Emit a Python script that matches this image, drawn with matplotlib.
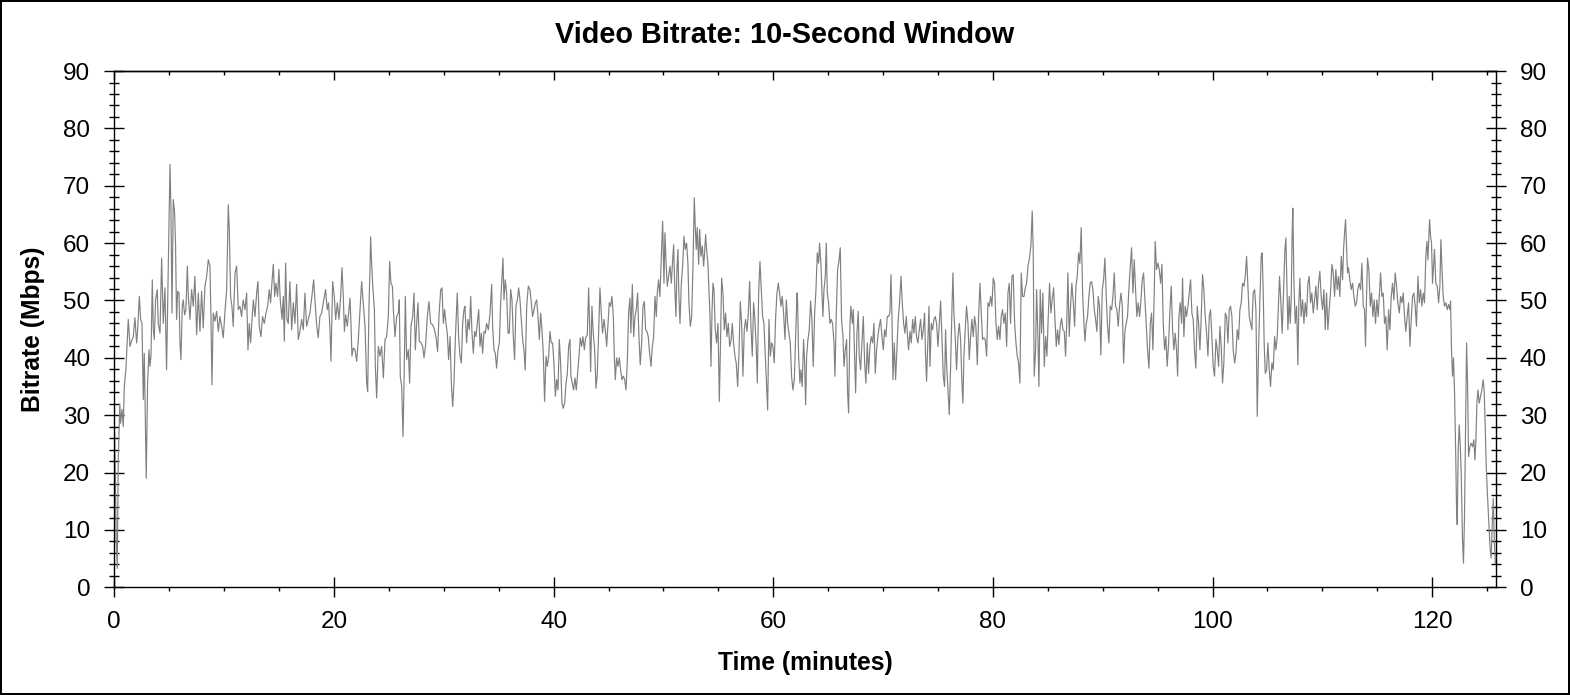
import numpy as np
import matplotlib
matplotlib.use("Agg")
import matplotlib.pyplot as plt
from matplotlib.ticker import MultipleLocator

plt.rcParams['font.family'] = ['Liberation Sans', 'DejaVu Sans']

# (minute, Mbps), one list per ~20 minutes
seg_a = [(0.03, 27.0), (0.10, 18.0), (0.18, 8.0), (0.27, 3.3), (0.36, 22.0), (0.50, 32.0), (0.58, 28.6), (0.70, 31.0),
         (0.82, 28.0), (0.91, 35.0), (1.06, 38.0), (1.18, 42.9), (1.27, 46.7), (1.43, 42.0), (1.58, 43.0), (1.73, 43.7),
         (1.88, 47.0), (2.03, 42.6), (2.12, 44.6), (2.28, 50.7), (2.40, 46.7), (2.52, 46.0), (2.64, 32.7), (2.73, 40.8),
         (2.82, 30.4), (2.91, 19.0), (3.03, 35.6), (3.16, 41.4), (3.25, 38.5), (3.34, 40.3), (3.46, 53.6), (3.55, 44.9),
         (3.64, 43.2), (3.76, 50.1), (3.91, 51.9), (4.00, 46.0), (4.16, 44.3), (4.31, 57.4), (4.46, 46.0), (4.61, 52.2),
         (4.76, 37.9), (4.92, 56.0), (5.07, 73.7), (5.16, 65.9), (5.25, 47.8), (5.37, 67.6), (5.49, 65.3), (5.58, 59.5),
         (5.67, 46.7), (5.77, 51.6), (5.89, 51.3), (5.98, 42.6), (6.07, 39.7), (6.19, 49.0), (6.28, 50.1), (6.40, 47.5),
         (6.52, 48.4), (6.65, 56.0), (6.74, 50.7), (6.89, 46.7), (7.04, 51.9), (7.19, 49.0), (7.34, 54.2), (7.50, 44.0),
         (7.65, 51.3), (7.80, 44.6), (7.95, 51.6), (8.10, 45.2), (8.25, 52.5), (8.41, 54.2), (8.56, 57.1), (8.71, 56.0),
         (8.80, 47.2), (8.89, 35.3), (9.01, 47.8), (9.16, 46.4), (9.32, 48.1), (9.47, 44.6), (9.62, 47.2), (9.77, 45.5),
         (9.92, 43.5), (10.07, 47.8), (10.23, 51.9), (10.38, 66.7), (10.47, 62.4), (10.59, 50.7), (10.71, 49.0),
         (10.83, 45.5), (10.99, 54.8), (11.14, 56.0), (11.29, 48.4), (11.44, 49.0), (11.59, 47.2), (11.74, 50.1),
         (11.90, 48.4), (12.05, 51.3), (12.17, 41.4), (12.29, 46.0), (12.41, 42.6), (12.53, 46.4), (12.66, 50.1),
         (12.81, 47.2), (12.96, 51.3), (13.08, 53.3), (13.20, 45.5), (13.35, 43.7), (13.50, 47.2), (13.66, 46.0),
         (13.81, 47.8), (13.96, 49.0), (14.11, 51.9), (14.23, 49.6), (14.35, 53.0), (14.48, 56.3), (14.60, 50.7),
         (14.72, 53.0), (14.87, 50.7), (14.99, 55.4), (15.11, 50.1), (15.27, 46.7), (15.39, 50.7), (15.48, 42.9),
         (15.60, 56.5), (15.72, 46.7), (15.84, 46.0), (15.99, 53.3), (16.15, 44.9), (16.30, 49.6), (16.45, 46.0),
         (16.60, 52.8), (16.75, 43.2), (16.90, 44.6), (17.06, 46.7), (17.21, 44.9), (17.36, 51.3), (17.51, 45.5),
         (17.66, 46.7), (17.81, 47.8), (17.99, 50.7), (18.15, 53.6), (18.27, 50.1), (18.42, 45.8), (18.57, 43.5),
         (18.72, 47.2), (18.88, 47.8), (19.03, 49.6), (19.24, 51.9), (19.39, 48.4), (19.51, 49.6), (19.64, 44.9)]

seg_b = [(19.73, 39.4), (19.88, 53.3), (20.03, 50.7), (20.16, 46.7), (20.31, 49.6), (20.46, 46.7), (20.61, 50.7),
         (20.73, 55.7), (20.85, 50.7), (20.95, 44.6), (21.07, 47.5), (21.22, 45.5), (21.34, 47.8), (21.46, 50.4),
         (21.55, 46.0), (21.64, 40.3), (21.76, 41.7), (21.92, 41.4), (22.07, 39.4), (22.22, 43.2), (22.37, 48.4),
         (22.52, 53.3), (22.67, 49.6), (22.83, 45.5), (22.98, 35.6), (23.07, 34.1), (23.19, 49.0), (23.28, 55.4),
         (23.34, 61.1), (23.43, 56.5), (23.52, 53.0), (23.68, 48.4), (23.77, 38.5), (23.89, 33.0), (24.04, 42.0),
         (24.19, 40.3), (24.34, 42.0), (24.50, 36.5), (24.65, 43.2), (24.80, 43.7), (24.95, 47.2), (25.07, 56.8),
         (25.19, 53.0), (25.32, 52.5), (25.41, 48.4), (25.56, 43.7), (25.71, 47.2), (25.86, 47.8), (25.95, 50.1),
         (26.04, 36.8), (26.17, 35.0), (26.29, 26.3), (26.38, 35.6), (26.50, 50.7), (26.62, 39.7), (26.77, 41.4),
         (26.89, 35.6), (27.01, 45.5), (27.17, 47.2), (27.29, 51.3), (27.41, 41.4), (27.53, 46.0), (27.65, 49.6),
         (27.77, 42.9), (27.93, 42.6), (28.08, 42.0), (28.20, 40.0), (28.35, 42.3), (28.50, 47.2), (28.65, 49.8),
         (28.81, 46.0), (28.96, 45.8), (29.11, 45.2), (29.29, 43.7), (29.44, 41.1), (29.56, 47.2), (29.72, 51.9),
         (29.84, 52.2), (29.96, 46.0), (30.08, 48.4), (30.20, 46.0), (30.32, 44.3), (30.44, 39.7), (30.57, 43.7),
         (30.69, 35.6), (30.81, 31.5), (30.93, 35.6), (31.02, 41.4), (31.11, 46.0), (31.23, 51.3), (31.35, 43.7),
         (31.48, 40.3), (31.60, 39.1), (31.72, 46.0), (31.84, 48.4), (31.93, 49.0), (32.08, 42.6), (32.20, 46.7),
         (32.33, 44.9), (32.45, 50.7), (32.57, 44.3), (32.69, 40.8), (32.81, 44.6), (32.93, 43.7), (33.05, 46.0),
         (33.18, 48.4), (33.30, 42.0), (33.42, 44.3), (33.54, 40.8), (33.66, 44.6), (33.78, 44.3), (33.90, 46.0),
         (34.06, 44.9), (34.21, 47.8), (34.36, 52.8), (34.45, 45.5), (34.57, 41.4), (34.69, 40.8), (34.81, 38.2),
         (34.94, 41.4), (35.06, 42.6), (35.18, 49.6), (35.30, 54.2), (35.39, 57.4), (35.48, 50.1), (35.60, 53.6),
         (35.72, 51.3), (35.85, 44.3), (35.97, 44.3), (36.09, 51.9), (36.21, 50.1), (36.33, 43.7), (36.45, 39.7),
         (36.57, 49.0), (36.70, 50.1), (36.82, 52.2), (36.94, 50.1), (37.06, 46.7), (37.18, 43.2), (37.30, 41.4),
         (37.42, 37.9), (37.55, 49.0), (37.70, 52.5), (37.85, 51.9), (37.97, 49.6), (38.09, 47.2), (38.21, 48.4),
         (38.34, 49.6), (38.46, 50.1), (38.58, 47.2), (38.70, 43.2), (38.82, 47.8), (38.94, 44.9), (39.06, 40.8),
         (39.18, 32.4), (39.31, 40.3), (39.43, 38.5), (39.55, 40.3), (39.67, 44.6), (39.79, 42.6), (39.91, 42.6),
         (40.03, 39.1), (40.16, 33.3), (40.28, 36.2), (40.40, 34.4), (40.52, 43.2), (40.64, 39.1), (40.76, 32.1),
         (40.88, 31.2), (41.01, 32.1), (41.13, 35.6), (41.25, 37.3), (41.37, 42.0), (41.49, 43.2)]

seg_c = [(41.58, 36.8), (41.70, 35.6), (41.82, 34.4), (41.95, 36.5), (42.07, 34.4), (42.19, 37.3), (42.31, 40.3),
         (42.43, 43.5), (42.55, 42.0), (42.67, 43.7), (42.80, 41.4), (42.92, 43.5), (43.07, 44.0), (43.19, 52.2),
         (43.28, 46.0), (43.37, 37.6), (43.49, 49.0), (43.61, 44.3), (43.74, 41.4), (43.86, 34.7), (43.98, 37.3),
         (44.10, 44.3), (44.22, 52.2), (44.34, 47.8), (44.46, 44.3), (44.59, 46.7), (44.71, 44.9), (44.83, 42.0),
         (44.95, 45.8), (45.07, 49.6), (45.19, 49.0), (45.31, 50.7), (45.44, 47.2), (45.53, 40.3), (45.62, 36.2),
         (45.74, 40.0), (45.86, 38.5), (45.98, 40.0), (46.10, 37.9), (46.23, 36.2), (46.35, 36.8), (46.47, 36.2),
         (46.59, 34.4), (46.71, 39.1), (46.83, 47.8), (46.95, 50.4), (47.04, 44.3), (47.17, 52.8), (47.29, 43.7),
         (47.41, 47.2), (47.53, 48.4), (47.65, 51.3), (47.77, 43.7), (47.89, 38.8), (48.02, 42.6), (48.14, 49.0),
         (48.26, 49.8), (48.38, 44.9), (48.50, 44.6), (48.62, 43.7), (48.74, 40.8), (48.87, 38.5), (48.99, 42.0),
         (49.11, 43.7), (49.23, 50.7), (49.35, 47.2), (49.44, 51.3), (49.56, 53.6), (49.68, 50.7), (49.81, 57.7),
         (49.93, 63.8), (50.05, 53.0), (50.14, 61.8), (50.23, 57.1), (50.35, 52.5), (50.47, 54.2), (50.60, 56.0),
         (50.72, 53.0), (50.84, 57.1), (50.93, 59.7), (51.02, 53.0), (51.14, 47.2), (51.23, 55.4), (51.32, 58.9),
         (51.41, 50.7), (51.51, 46.0), (51.63, 53.0), (51.75, 56.0), (51.87, 61.2), (51.99, 58.9), (52.11, 60.0),
         (52.23, 56.5), (52.32, 49.6), (52.45, 45.5), (52.57, 47.2), (52.69, 56.0), (52.81, 67.9), (52.90, 62.9),
         (52.99, 58.9), (53.08, 62.7), (53.21, 56.3), (53.30, 62.4), (53.42, 57.7), (53.54, 59.5), (53.66, 56.0),
         (53.75, 58.3), (53.84, 61.5), (53.93, 58.9), (54.05, 56.5), (54.14, 51.9), (54.24, 47.2), (54.33, 38.5),
         (54.42, 47.8), (54.51, 53.0), (54.60, 51.9), (54.72, 44.9), (54.84, 42.6), (54.97, 46.0), (55.09, 32.4),
         (55.18, 40.8), (55.30, 53.9), (55.42, 51.3), (55.54, 44.9), (55.66, 47.8), (55.78, 43.7), (55.91, 46.0),
         (56.03, 42.0), (56.15, 42.9), (56.27, 46.0), (56.39, 42.6), (56.51, 40.3), (56.63, 39.1), (56.76, 35.0),
         (56.88, 40.8), (57.00, 49.8), (57.12, 46.0), (57.24, 36.8), (57.36, 44.9), (57.48, 46.7), (57.61, 44.6),
         (57.73, 47.8), (57.85, 53.3), (57.97, 45.5), (58.09, 40.3), (58.21, 49.6), (58.33, 46.7), (58.46, 41.4),
         (58.55, 35.6), (58.67, 51.3), (58.79, 56.8), (58.91, 51.9), (59.03, 47.2), (59.15, 46.0), (59.27, 40.8),
         (59.40, 35.6), (59.49, 30.9), (59.61, 46.7), (59.73, 40.3), (59.85, 42.6), (59.97, 42.0), (60.09, 39.1),
         (60.22, 47.2), (60.34, 51.3), (60.46, 53.0), (60.58, 51.3), (60.70, 49.0), (60.82, 50.7), (60.94, 47.8),
         (61.07, 43.2), (61.19, 50.1), (61.31, 46.0), (61.43, 44.3), (61.55, 42.6), (61.67, 36.8), (61.79, 34.4),
         (61.92, 36.2), (62.04, 43.7), (62.16, 51.3), (62.22, 49.6), (62.31, 40.3), (62.43, 35.6)]

seg_d = [(62.52, 37.9), (62.64, 35.0), (62.76, 43.2), (62.86, 39.1), (62.95, 31.8), (63.04, 40.3), (63.16, 43.2),
         (63.28, 44.9), (63.40, 49.9), (63.52, 46.7), (63.64, 38.5), (63.77, 47.8), (63.89, 51.9), (64.01, 58.3),
         (64.13, 56.5), (64.22, 60.0), (64.34, 56.5), (64.43, 51.9), (64.52, 47.2), (64.62, 51.9), (64.74, 54.2),
         (64.83, 60.0), (64.92, 51.3), (65.04, 49.6), (65.16, 46.0), (65.28, 46.7), (65.40, 46.0), (65.53, 42.6),
         (65.62, 36.8), (65.74, 47.8), (65.86, 55.4), (65.98, 56.8), (66.10, 59.2), (66.22, 46.7), (66.35, 43.7),
         (66.44, 38.5), (66.56, 41.4), (66.68, 43.2), (66.77, 33.9), (66.86, 30.4), (66.98, 45.5), (67.07, 49.0),
         (67.20, 46.0), (67.29, 48.4), (67.41, 39.7), (67.50, 33.9), (67.62, 44.3), (67.74, 48.1), (67.83, 40.3),
         (67.95, 37.9), (68.08, 42.6), (68.20, 47.2), (68.32, 39.1), (68.44, 35.6), (68.56, 42.6), (68.68, 37.3),
         (68.80, 42.0), (68.93, 43.7), (69.05, 42.6), (69.17, 46.0), (69.29, 37.3), (69.41, 41.4), (69.53, 43.7),
         (69.65, 45.5), (69.77, 46.7), (69.90, 43.7), (70.02, 41.4), (70.14, 44.9), (70.26, 43.7), (70.38, 47.2),
         (70.50, 47.2), (70.62, 47.8), (70.72, 54.5), (70.81, 47.2), (70.90, 36.2), (71.02, 42.6), (71.14, 36.2),
         (71.26, 41.4), (71.38, 46.7), (71.50, 49.6), (71.63, 54.2), (71.75, 49.6), (71.87, 46.0), (71.99, 44.3),
         (72.11, 47.2), (72.23, 43.7), (72.32, 41.4), (72.45, 44.6), (72.57, 42.6), (72.69, 46.7), (72.81, 44.3),
         (72.93, 47.2), (73.05, 43.7), (73.17, 42.6), (73.30, 44.9), (73.42, 46.7), (73.54, 43.2), (73.66, 44.9),
         (73.78, 47.8), (73.87, 40.3), (73.96, 35.9), (74.08, 43.2), (74.18, 49.0), (74.27, 38.5), (74.39, 46.0),
         (74.51, 44.9), (74.63, 46.7), (74.75, 47.2), (74.87, 46.0), (75.00, 42.0), (75.12, 46.0), (75.24, 49.9),
         (75.36, 43.7), (75.48, 36.8), (75.60, 35.0), (75.69, 44.9), (75.78, 39.1), (75.91, 34.4), (76.03, 30.1),
         (76.15, 38.5), (76.27, 48.4), (76.36, 54.8), (76.45, 47.8), (76.57, 43.7), (76.69, 37.9), (76.82, 43.7),
         (76.94, 46.0), (77.06, 43.2), (77.18, 35.6), (77.27, 32.1), (77.36, 40.3), (77.48, 44.9), (77.60, 49.0),
         (77.73, 46.0), (77.85, 39.7), (77.97, 43.7), (78.09, 46.7), (78.21, 43.7), (78.33, 47.2), (78.45, 45.5),
         (78.58, 38.8), (78.70, 47.2), (78.82, 53.0), (78.94, 47.8), (79.06, 43.2), (79.18, 43.5), (79.30, 43.2),
         (79.43, 40.3), (79.55, 49.6), (79.67, 49.0), (79.79, 50.7), (79.91, 49.0), (80.03, 53.9), (80.15, 53.0),
         (80.28, 46.0), (80.40, 43.2), (80.52, 45.5), (80.64, 43.2), (80.76, 47.2), (80.88, 48.4), (81.00, 46.0),
         (81.13, 47.8), (81.25, 42.0), (81.37, 51.3), (81.49, 53.0), (81.61, 46.0), (81.73, 54.2), (81.85, 54.5),
         (81.98, 46.0), (82.10, 42.6), (82.22, 40.3), (82.34, 39.1), (82.46, 35.6), (82.58, 54.8), (82.70, 50.7),
         (82.83, 50.7), (82.95, 52.2), (83.07, 53.0), (83.19, 56.0), (83.31, 57.1)]

seg_e = [(83.46, 59.5), (83.58, 65.6), (83.67, 58.9), (83.76, 36.8), (83.89, 41.4), (83.98, 51.9), (84.10, 43.7),
         (84.19, 35.0), (84.31, 51.9), (84.43, 44.3), (84.55, 51.3), (84.68, 38.5), (84.80, 43.7), (84.92, 40.3),
         (85.04, 47.2), (85.16, 53.0), (85.28, 47.8), (85.40, 50.1), (85.53, 52.2), (85.65, 46.7), (85.77, 42.0),
         (85.89, 44.9), (86.01, 42.3), (86.13, 45.5), (86.25, 46.9), (86.38, 44.9), (86.50, 44.6), (86.62, 40.3),
         (86.74, 47.2), (86.83, 54.8), (86.95, 43.7), (87.07, 49.0), (87.19, 53.0), (87.32, 49.6), (87.44, 45.5),
         (87.56, 52.5), (87.68, 54.2), (87.80, 58.3), (87.92, 56.5), (88.04, 62.7), (88.17, 51.3), (88.29, 46.0),
         (88.38, 42.9), (88.50, 46.0), (88.62, 47.2), (88.74, 50.7), (88.86, 53.0), (88.98, 53.3), (89.11, 51.9),
         (89.23, 48.4), (89.35, 46.7), (89.47, 44.6), (89.59, 50.7), (89.71, 49.0), (89.83, 40.5), (89.96, 51.9),
         (90.08, 53.6), (90.20, 57.4), (90.32, 50.7), (90.44, 45.5), (90.56, 42.6), (90.68, 49.0), (90.81, 48.4),
         (90.93, 50.7), (91.05, 54.8), (91.17, 49.0), (91.29, 48.4), (91.41, 45.5), (91.53, 49.0), (91.66, 51.3),
         (91.78, 49.0), (91.90, 39.1), (92.02, 44.6), (92.14, 46.0), (92.26, 47.2), (92.38, 51.9), (92.51, 56.0),
         (92.63, 59.2), (92.75, 51.3), (92.87, 57.1), (92.99, 51.9), (93.11, 47.2), (93.23, 49.6), (93.36, 47.2),
         (93.48, 50.1), (93.60, 53.6), (93.72, 54.8), (93.84, 50.1), (93.96, 46.0), (94.08, 41.4), (94.21, 38.2),
         (94.33, 46.0), (94.45, 47.8), (94.57, 41.4), (94.69, 51.3), (94.78, 60.3), (94.90, 55.4), (95.02, 56.5),
         (95.15, 55.4), (95.27, 53.0), (95.39, 56.3), (95.51, 46.0), (95.63, 41.4), (95.75, 43.7), (95.87, 38.5),
         (96.00, 42.6), (96.12, 48.4), (96.24, 52.5), (96.36, 44.9), (96.48, 41.4), (96.60, 44.3), (96.72, 41.4),
         (96.82, 36.8), (96.94, 47.2), (97.06, 49.6), (97.18, 46.0), (97.27, 53.9), (97.39, 43.7), (97.51, 49.0),
         (97.63, 47.2), (97.76, 49.0), (97.88, 51.3), (98.00, 53.6), (98.12, 47.8), (98.24, 46.7), (98.36, 41.4),
         (98.48, 38.2), (98.61, 49.0), (98.73, 46.0), (98.85, 41.4), (98.97, 47.2), (99.09, 54.5), (99.21, 51.9),
         (99.33, 47.2), (99.46, 44.3), (99.58, 40.3), (99.70, 47.2), (99.82, 48.4), (99.94, 43.7), (100.06, 38.5),
         (100.18, 36.8), (100.31, 43.2), (100.43, 41.4), (100.55, 38.5), (100.67, 45.5), (100.79, 42.0),
         (100.91, 35.6), (101.03, 39.1), (101.16, 47.8), (101.28, 47.2), (101.40, 42.6), (101.52, 48.4),
         (101.64, 49.0), (101.76, 47.2), (101.88, 41.4), (102.01, 39.1), (102.13, 40.8), (102.25, 44.9),
         (102.37, 43.2), (102.49, 48.4), (102.61, 49.6), (102.73, 53.0), (102.86, 52.5), (102.98, 54.2),
         (103.10, 57.7), (103.22, 52.5), (103.34, 47.2), (103.46, 46.0), (103.58, 44.9), (103.70, 51.3),
         (103.83, 51.9), (103.95, 48.4), (104.07, 29.8), (104.19, 41.4), (104.31, 50.1)]

seg_f = [(104.43, 57.7), (104.52, 58.3), (104.61, 51.9), (104.70, 42.6), (104.80, 37.3), (104.92, 37.9),
         (105.04, 42.6), (105.16, 37.9), (105.28, 35.0), (105.40, 39.1), (105.52, 37.9), (105.65, 43.7),
         (105.77, 41.4), (105.89, 43.7), (106.01, 49.6), (106.10, 54.2), (106.22, 49.6), (106.34, 44.3),
         (106.47, 51.9), (106.59, 58.9), (106.68, 60.9), (106.77, 53.0), (106.86, 44.9), (106.98, 50.7),
         (107.07, 46.0), (107.16, 50.1), (107.25, 61.8), (107.31, 66.1), (107.41, 53.0), (107.53, 46.0),
         (107.65, 49.0), (107.77, 38.8), (107.86, 49.6), (107.95, 53.9), (108.07, 47.2), (108.20, 50.1),
         (108.32, 46.0), (108.44, 49.6), (108.56, 47.2), (108.68, 53.0), (108.80, 54.2), (108.92, 49.6),
         (109.04, 51.3), (109.17, 47.8), (109.29, 50.1), (109.41, 52.5), (109.53, 48.4), (109.65, 53.0),
         (109.77, 55.1), (109.89, 50.7), (110.02, 48.4), (110.14, 51.9), (110.26, 44.9), (110.38, 51.3),
         (110.50, 44.9), (110.62, 48.4), (110.74, 51.3), (110.87, 56.3), (110.99, 54.8), (111.11, 50.7),
         (111.23, 55.4), (111.35, 51.9), (111.47, 54.2), (111.59, 50.7), (111.72, 57.7), (111.84, 53.6),
         (111.93, 58.9), (112.02, 61.8), (112.11, 64.1), (112.20, 59.5), (112.29, 54.8), (112.38, 55.7),
         (112.50, 53.6), (112.63, 51.9), (112.75, 53.0), (112.87, 50.7), (112.99, 49.0), (113.11, 49.6),
         (113.23, 51.9), (113.35, 53.0), (113.48, 51.9), (113.60, 56.5), (113.72, 49.0), (113.84, 48.4),
         (113.93, 42.0), (114.02, 50.7), (114.11, 57.4), (114.23, 55.4), (114.36, 49.0), (114.48, 51.3),
         (114.60, 47.2), (114.72, 50.1), (114.84, 46.0), (114.96, 50.1), (115.08, 47.2), (115.21, 51.9),
         (115.30, 54.8), (115.42, 50.7), (115.54, 51.3), (115.66, 46.0), (115.78, 47.2), (115.90, 41.4),
         (116.03, 48.4), (116.15, 44.9), (116.27, 50.7), (116.39, 53.0), (116.51, 50.1), (116.63, 54.8),
         (116.75, 52.5), (116.87, 49.6), (117.00, 47.8), (117.12, 50.7), (117.24, 49.6), (117.36, 51.3),
         (117.48, 47.2), (117.60, 44.6), (117.72, 47.2), (117.85, 49.6), (117.97, 42.0), (118.09, 46.7),
         (118.21, 50.7), (118.33, 51.3), (118.45, 49.0), (118.57, 45.5), (118.70, 54.2), (118.82, 49.6),
         (118.94, 51.9), (119.06, 49.0), (119.18, 51.3), (119.30, 49.6), (119.42, 57.7), (119.52, 60.3),
         (119.61, 57.1), (119.70, 61.2), (119.76, 64.1), (119.85, 61.2), (119.94, 60.0), (120.03, 53.0),
         (120.12, 56.0), (120.21, 58.9), (120.33, 53.0), (120.46, 52.5), (120.58, 49.6), (120.70, 52.5),
         (120.79, 60.6), (120.88, 56.0), (121.00, 50.7), (121.12, 49.0), (121.25, 49.6), (121.37, 48.4),
         (121.49, 49.3), (121.61, 48.4), (121.67, 49.9), (121.76, 41.4), (121.85, 36.8), (121.94, 40.0),
         (122.03, 34.4), (122.13, 24.5), (122.22, 13.5), (122.28, 10.9), (122.37, 24.0), (122.46, 28.3),
         (122.55, 25.1), (122.64, 19.9), (122.76, 8.3), (122.85, 4.2), (122.94, 12.3), (123.04, 28.0),
         (123.13, 42.6), (123.22, 35.6), (123.31, 22.8), (123.43, 24.5), (123.55, 25.1), (123.67, 24.5),
         (123.79, 25.7), (123.89, 22.2), (123.98, 25.7), (124.07, 32.1), (124.16, 34.4), (124.28, 32.1),
         (124.40, 33.3), (124.52, 34.4), (124.64, 36.2), (124.73, 34.4), (124.83, 28.0), (124.92, 21.1),
         (125.01, 17.0), (125.10, 13.5), (125.19, 10.0), (125.28, 6.5), (125.37, 5.1), (125.47, 11.2),
         (125.56, 15.5), (125.65, 8.3), (125.74, 4.2)]

x_ticks = [0, 20, 40, 60, 80, 100, 120]
y_ticks = [0, 10, 20, 30, 40, 50, 60, 70, 80, 90]
x_max = 125.8

pts = np.array(seg_a + seg_b + seg_c + seg_d + seg_e + seg_f)
minutes, mbps = pts[:, 0], pts[:, 1]

fig = plt.figure(figsize=(15.7, 6.95), dpi=100, linewidth=1.5, edgecolor='black')
ax = fig.add_axes([0.0728, 0.155, 0.88, 0.7428])

ax.plot(minutes, mbps, color='#808080', linewidth=0.85)

ax.set_xlim(0, x_max)
ax.set_ylim(0, 90)
ax.set_xticks(x_ticks)
ax.set_yticks(y_ticks)
ax.xaxis.set_minor_locator(MultipleLocator(5))
ax.yaxis.set_minor_locator(MultipleLocator(2))

for s in ax.spines.values():
    s.set_linewidth(1.0)

ax.tick_params(axis='both', which='both', labelsize=17.5, width=1.0, colors='black')
ax.tick_params(axis='x', which='major', direction='inout', length=13.7, pad=10, top=False)
ax.tick_params(axis='x', which='minor', direction='out', length=3.1, top=False)
ax.tick_params(axis='y', which='major', direction='inout', length=13.7, pad=10.4,
               right=True, labelright=True)
ax.tick_params(axis='y', which='minor', direction='inout', length=7.2, right=True)

# top axis: ticks only, pointing inward
top = ax.secondary_xaxis('top')
top.set_xticks(x_ticks)
top.xaxis.set_minor_locator(MultipleLocator(5))
top.tick_params(which='major', direction='in', length=6.8, width=1.0, labeltop=False)
top.tick_params(which='minor', direction='in', length=2.9, width=1.0)
top.spines['top'].set_linewidth(1.0)

# title is centred on the whole figure, not on the axes
ax.set_title('Video Bitrate: 10-Second Window', fontsize=20.8, fontweight='bold', pad=20, x=0.4854)
ax.set_xlabel('Time (minutes)', fontsize=17.7, fontweight='bold', labelpad=13)
ax.set_ylabel('Bitrate (Mbps)', fontsize=17.7, fontweight='bold', labelpad=13)

fig.savefig('out.png', dpi=100, edgecolor=fig.get_edgecolor())
